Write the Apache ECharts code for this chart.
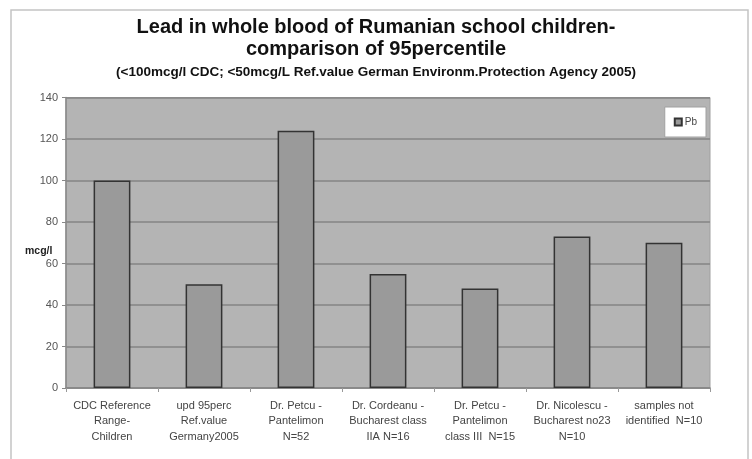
<!DOCTYPE html>
<html>
<head>
<meta charset="utf-8">
<script src="https://cdn.jsdelivr.net/npm/echarts@6/dist/echarts.min.js"></script>
<style>
  html, body { margin: 0; padding: 0; background: #fff; }
  #chart { width: 752px; height: 459px; }
</style>
</head>
<body>
<div id="chart"></div>
<script>
// chart data
var categories = [
  "CDC Reference\nRange-\nChildren",
  "upd 95perc\nRef.value\nGermany2005",
  "Dr. Petcu -\nPantelimon\nN=52",
  "Dr. Cordeanu -\nBucharest class\nIIA N=16",
  "Dr. Petcu -\nPantelimon\nclass III  N=15",
  "Dr. Nicolescu -\nBucharest no23\nN=10",
  "samples not\nidentified  N=10"
];
var pbValues = [100, 50, 124, 55, 48, 73, 70];
var yTicks = [0, 20, 40, 60, 80, 100, 120, 140];
var yUnit = "mcg/l";

var titleLines = [
  "Lead in whole blood of Rumanian school children-",
  "comparison of 95percentile"
];
var subtitleText = "(<100mcg/l CDC; <50mcg/L Ref.value German Environm.Protection Agency 2005)";

var myChart = echarts.init(document.getElementById("chart"));

var titleStyle = {
  fontSize: 20,
  fontWeight: "bold",
  color: "#111",
  lineHeight: 20,
  fontFamily: "Liberation Sans"
};

var option = {
  backgroundColor: "#fff",
  textStyle: { fontFamily: "Liberation Sans, Arial, sans-serif" },
  graphic: [
    {
      type: "rect",
      z: -10,
      shape: { x: 11, y: 10, width: 737, height: 470 },
      style: { fill: "#fff", stroke: "#c4c4c4", lineWidth: 1.5 }
    },
    {
      // y axis unit, placed left of the axis like the original
      type: "text",
      left: 25,
      top: 246,
      style: {
        text: yUnit,
        fontSize: 10.5,
        fontWeight: "bold",
        fill: "#222",
        fontFamily: "Liberation Sans"
      }
    }
  ],
  title: [
    { text: titleLines[0], left: "center", top: 17, padding: 0, textStyle: titleStyle },
    { text: titleLines[1], left: "center", top: 39, padding: 0, textStyle: titleStyle },
    {
      text: subtitleText,
      left: "center",
      top: 65.5,
      padding: 0,
      textStyle: {
        fontSize: 13.5,
        lineHeight: 14,
        fontWeight: "bold",
        color: "#111",
        fontFamily: "Liberation Sans"
      }
    }
  ],
  legend: {
    data: ["Pb"],
    right: 46,
    top: 107,
    orient: "vertical",
    icon: "rect",
    itemWidth: 7,
    itemHeight: 7,
    itemGap: 3,
    padding: [10, 9, 10, 9],
    backgroundColor: "#fff",
    borderColor: "#a0a0a0",
    borderWidth: 1,
    textStyle: { fontSize: 10, color: "#444", padding: [0, 0, 0, -2] }
  },
  grid: {
    left: 66,
    right: 42,
    top: 97.5,
    bottom: 71,
    show: true,
    backgroundColor: "#b4b4b4",
    borderColor: "#a0a0a0",
    borderWidth: 1
  },
  xAxis: {
    type: "category",
    data: categories,
    axisLine: { show: true, lineStyle: { color: "#888", width: 1.5 } },
    axisTick: {
      show: true,
      interval: 0,
      length: 4,
      lineStyle: { color: "#999" }
    },
    axisLabel: {
      interval: 0,
      fontSize: 11,
      lineHeight: 15.5,
      color: "#444",
      margin: 10
    },
    splitLine: { show: false }
  },
  yAxis: {
    type: "value",
    min: yTicks[0],
    max: yTicks[yTicks.length - 1],
    interval: yTicks[1] - yTicks[0],
    axisLine: { show: true, lineStyle: { color: "#888", width: 1.5 } },
    axisTick: { show: true, length: 4, lineStyle: { color: "#888" } },
    axisLabel: { fontSize: 11, color: "#555", margin: 8 },
    splitLine: { show: true, lineStyle: { color: "#858585", width: 1.5 } }
  },
  series: [
    {
      name: "Pb",
      type: "bar",
      data: pbValues,
      barWidth: "40%",
      itemStyle: {
        color: "#9a9a9a",
        borderColor: "#333",
        borderWidth: 1.5
      }
    }
  ]
};

myChart.setOption(option, true);
window.addEventListener("resize", function () {
  myChart.resize();
});
</script>
</body>
</html>
